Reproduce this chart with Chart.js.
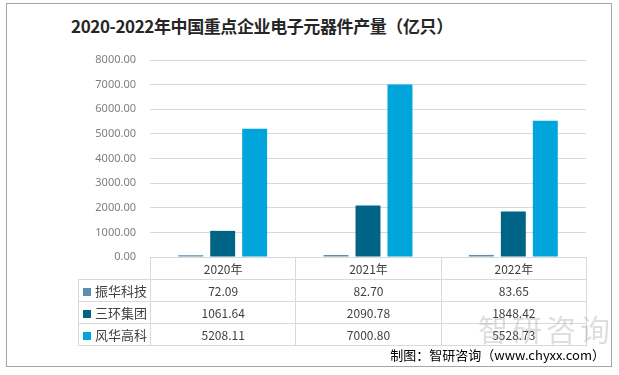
<!DOCTYPE html>
<html>
<head>
<meta charset="utf-8">
<script src="https://cdn.jsdelivr.net/npm/chart.js@4/dist/chart.umd.min.js"></script>
<style>
  body { margin: 0; background: #fff; font-family: "Noto Sans CJK SC", "Noto Sans", sans-serif; }
  #wrap { position: relative; width: 619px; height: 375px; overflow: hidden; }
  #frame { position: absolute; left: 6px; top: 3px; width: 604px; height: 362px; border: 1px solid #a6a6a6; }
  #title { position: absolute; left: 71px; top: 13px; font-size: 17px; letter-spacing: -0.4px; font-weight: bold; color: #262626; white-space: nowrap; }
  #chart { position: absolute; left: 0; top: 0; }
  #tbl { position: absolute; border-collapse: collapse; font-size: 12px; color: #404040; table-layout: fixed; }
  #tbl td { border: 1px solid #d9d9d9; text-align: center; padding: 0; height: 21px; white-space: nowrap; }
  #tbl td.lab { text-align: left; padding-left: 4px; font-size: 13px; }
  #tbl td.blank { border-top: none; border-left: none; }
  .sw { display: inline-block; width: 8px; height: 8px; margin-right: 4px; vertical-align: 0px; }
  #mark { position: absolute; left: 478px; top: 306px; font-size: 30px; color: rgba(160,160,160,0.35); letter-spacing: 4px; white-space: nowrap; }
  #foot { position: absolute; right: 14px; top: 345px; font-size: 13px; color: #000; white-space: nowrap; }
</style>
</head>
<body>
<div id="wrap">
  <div id="frame"></div>
  <div id="title">2020-2022年中国重点企业电子元器件产量（亿只）</div>
  <canvas id="chart" width="619" height="375"></canvas>
  <table id="tbl"></table>
  <div id="mark">智研咨询</div>
  <div id="foot">制图：智研咨询（www.chyxx.com）</div>
</div>
<script>
const years = ['2020年', '2021年', '2022年'];
const seriesNames = ['振华科技', '三环集团', '风华高科'];
const zhenhua = [72.09, 82.70, 83.65];
const sanhuan = [1061.64, 2090.78, 1848.42];
const fenghua = [5208.11, 7000.80, 5528.73];
const colors = ['#5b90ad', '#006487', '#00a5dc'];
const yMax = 8000;
const yStep = 1000;

const allSeries = [zhenhua, sanhuan, fenghua];

// builds the data table under the plot, lined up with the x scale
const tablePlugin = {
  id: 'dataTable',
  afterRender(chart) {
    if (chart._tableDone) return;
    chart._tableDone = true;
    const area = chart.chartArea;
    const xs = chart.scales.x;
    const colW = xs.getPixelForValue(1) - xs.getPixelForValue(0);
    const labW = 72;
    const tbl = document.getElementById('tbl');
    tbl.style.left = (area.left - labW) + 'px';
    tbl.style.top = area.bottom + 'px';
    tbl.style.width = (labW + colW * years.length) + 'px';
    let html = '<colgroup><col style="width:' + labW + 'px">';
    years.forEach(() => { html += '<col style="width:' + colW + 'px">'; });
    html += '</colgroup><tr><td class="blank"></td>';
    years.forEach(y => { html += '<td>' + y + '</td>'; });
    html += '</tr>';
    seriesNames.forEach((name, i) => {
      html += '<tr><td class="lab"><span class="sw" style="background:' + colors[i] + '"></span>' + name + '</td>';
      allSeries[i].forEach(v => { html += '<td>' + v.toFixed(2) + '</td>'; });
      html += '</tr>';
    });
    tbl.innerHTML = html;
  }
};

new Chart(document.getElementById('chart'), {
  type: 'bar',
  data: {
    labels: years,
    datasets: seriesNames.map((name, i) => ({
      label: name,
      data: allSeries[i],
      backgroundColor: colors[i],
      barPercentage: 0.78,
      categoryPercentage: 0.66
    }))
  },
  options: {
    responsive: false,
    animation: false,
    layout: { padding: { left: 0, top: 60, right: 33, bottom: 118 } },
    plugins: { legend: { display: false }, tooltip: { enabled: false } },
    scales: {
      x: { display: false },
      y: {
        min: 0,
        max: yMax,
        ticks: {
          stepSize: yStep,
          color: '#7f7f7f',
          font: { size: 11, family: 'Noto Sans' },
          padding: 14,
          callback: v => v.toFixed(2)
        },
        grid: { color: '#d9d9d9', drawTicks: false },
        border: { display: false },
        afterFit(scale) { scale.width = 150; }
      }
    }
  },
  plugins: [tablePlugin]
});
</script>
</body>
</html>
